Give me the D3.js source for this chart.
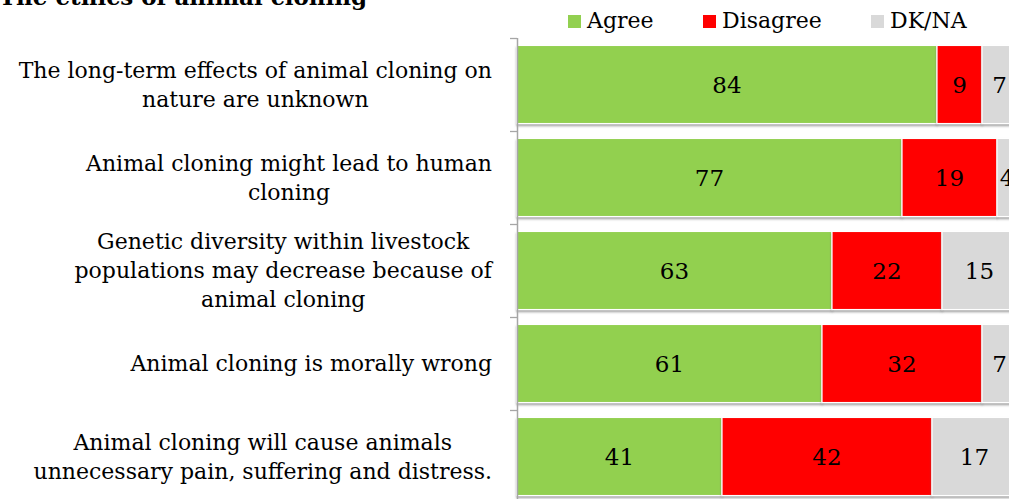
<!DOCTYPE html>
<html><head><meta charset="utf-8">
<script src="https://cdn.jsdelivr.net/npm/d3@7"></script>
<style>
html,body{margin:0;padding:0;background:#fff;overflow:hidden}
svg{display:block}
text{font-family:"DejaVu Serif",Georgia,serif;fill:#000}
</style></head>
<body>
<svg id="chart" width="1009" height="499"></svg>
<script>
const title = "The ethics of animal cloning";
const categories = [
  ["The long-term effects of animal cloning on", "nature are unknown"],
  ["Animal cloning might lead to human", "cloning"],
  ["Genetic diversity within livestock", "populations may decrease because of", "animal cloning"],
  ["Animal cloning is morally wrong"],
  ["Animal cloning will cause animals", "unnecessary pain, suffering and distress."]
];
const seriesNames = ["Agree", "Disagree", "DK/NA"];
const agree    = [84, 77, 63, 61, 41];
const disagree = [9, 19, 22, 32, 42];
const dkna     = [7, 4, 15, 7, 17];
const colors = ["#92d050", "#ff0000", "#d9d9d9"];

const svg = d3.select("#chart");
const defs = svg.append("defs");
const f = defs.append("filter").attr("id","sh").attr("x","-5%").attr("y","-10%").attr("width","110%").attr("height","130%");
f.append("feDropShadow").attr("dx",0).attr("dy",2).attr("stdDeviation",1.2).attr("flood-color","#666").attr("flood-opacity",0.6);

const keys = categories.map((c,i)=>"c"+i);
const x = d3.scaleLinear().domain([0,100]).range([517,1017]);
const y = d3.scaleBand().domain(keys).range([38,503]).paddingInner(0.16).paddingOuter(0.08);

const rows = keys.map((k,i)=>({key:k, Agree:agree[i], Disagree:disagree[i], "DK/NA":dkna[i]}));
const stacked = d3.stack().keys(seriesNames)(rows);

// title
svg.append("text").attr("x",-1).attr("y",5).attr("font-weight","bold").attr("font-size",23).text(title);

// bars
const g = svg.append("g");
stacked.forEach((s,si)=>{
  g.selectAll(null).data(s).join("rect")
    .attr("x",d=>x(d[0])).attr("width",d=>x(d[1])-x(d[0]))
    .attr("y",d=>y(d.data.key)).attr("height",y.bandwidth())
    .attr("fill",colors[si]).attr("stroke","#fff").attr("stroke-width",1.2)
    .attr("filter","url(#sh)");
});
stacked.forEach((s,si)=>{
  g.selectAll(null).data(s).join("text")
    .attr("x",d=>(x(d[0])+x(d[1]))/2)
    .attr("y",d=>y(d.data.key)+y.bandwidth()/2)
    .attr("dy","0.36em").attr("text-anchor","middle").attr("font-size",23)
    .text(d=>d[1]-d[0]);
});

// axis
const ax = svg.append("g");
ax.append("line").attr("x1",517.5).attr("x2",517.5).attr("y1",y.range()[0]).attr("y2",y.range()[1])
  .attr("stroke","#a6a6a6").attr("stroke-width",1.5);
d3.range(keys.length+1).forEach(i=>{
  const ty = y.range()[0] + i*y.step();
  ax.append("line").attr("x1",510).attr("x2",517).attr("y1",ty+0.5).attr("y2",ty+0.5)
    .attr("stroke","#a6a6a6").attr("stroke-width",1.3);
});

// category labels
const lineH = 29;
categories.forEach((lines,i)=>{
  const cy = y(keys[i]) + y.bandwidth()/2;
  const t = svg.append("text").attr("font-size",22).attr("text-anchor","middle");
  lines.forEach((ln,j)=>{
    t.append("tspan").attr("y", cy + (j-(lines.length-1)/2)*lineH).attr("dy","0.36em").text(ln);
  });
  let w = 0;
  t.selectAll("tspan").each(function(){ w = Math.max(w, this.getComputedTextLength()); });
  t.selectAll("tspan").attr("x", 492 - w/2);
});

// legend
const legX = [568, 703, 871];
seriesNames.forEach((n,i)=>{
  svg.append("rect").attr("x",legX[i]).attr("y",15).attr("width",13).attr("height",13).attr("fill",colors[i]);
  svg.append("text").attr("x",legX[i]+19).attr("y",28).attr("font-size",22).text(n);
});
</script>
</body></html>
